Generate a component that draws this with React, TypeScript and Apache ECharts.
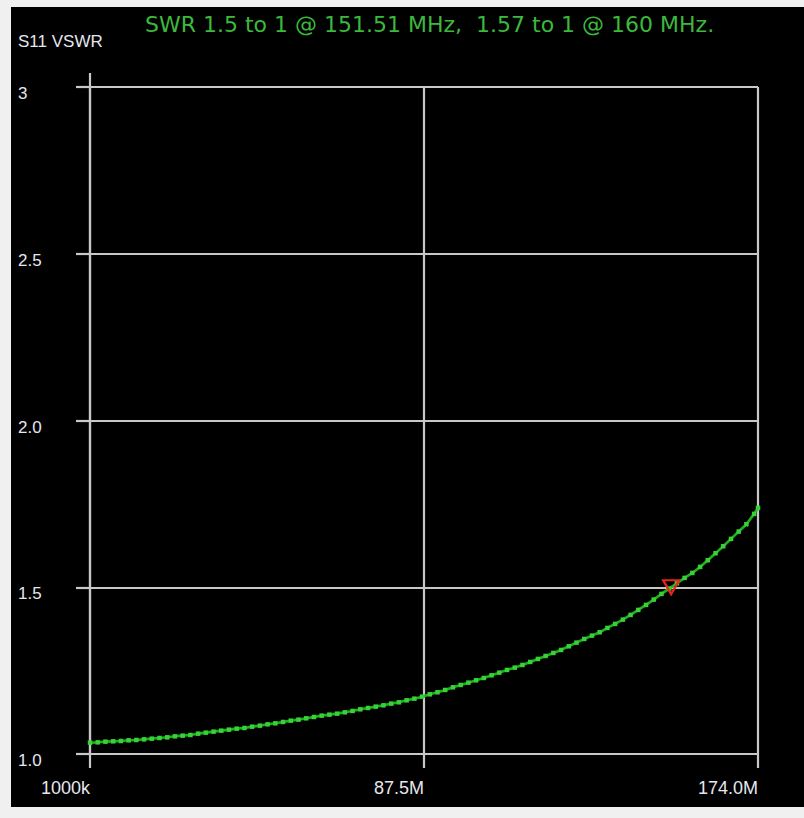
import React, { useEffect, useRef } from "react";
import * as echarts from "echarts";

const TITLE = "SWR 1.5 to 1 @ 151.51 MHz,  1.57 to 1 @ 160 MHz.";
const Y_TITLE = "S11 VSWR";

// Sweep start (MHz); the x axis is measured from it so ticks start at 0
const X0 = 1;
const X_TICK_VALUES = [1, 87.5, 174];
const X_TICK_LABELS = ["1000k", "87.5M", "174.0M"];
const Y_TICK_VALUES = [1, 1.5, 2, 2.5, 3];
const Y_TICK_LABELS = ["1.0", "1.5", "2.0", "2.5", "3"];

const FREQ_MHZ = [
  1, 3, 5, 7, 9, 11, 13, 15, 17, 19,
  21, 23, 25, 27, 29, 31, 33, 35, 37, 39,
  41, 43, 45, 47, 49, 51, 53, 55, 57, 59,
  61, 63, 65, 67, 69, 71, 73, 75, 77, 79,
  81, 83, 85, 87, 89, 91, 93, 95, 97, 99,
  101, 103, 105, 107, 109, 111, 113, 115, 117, 119,
  121, 123, 125, 127, 129, 131, 133, 135, 137, 139,
  141, 143, 145, 147, 149, 151, 153, 155, 157, 159,
  161, 163, 165, 167, 169, 171, 173, 174,
];

const VSWR = [
  1.034, 1.035, 1.037, 1.038, 1.039, 1.041, 1.042, 1.044, 1.046, 1.048,
  1.05, 1.053, 1.055, 1.057, 1.061, 1.064, 1.067, 1.07, 1.073, 1.076,
  1.078, 1.082, 1.085, 1.089, 1.092, 1.096, 1.1, 1.103, 1.107, 1.111,
  1.115, 1.118, 1.121, 1.125, 1.129, 1.134, 1.138, 1.142, 1.146, 1.151,
  1.155, 1.161, 1.166, 1.172, 1.179, 1.185, 1.192, 1.2, 1.207, 1.214,
  1.221, 1.228, 1.236, 1.244, 1.252, 1.259, 1.267, 1.276, 1.285, 1.294,
  1.303, 1.312, 1.323, 1.334, 1.345, 1.355, 1.365, 1.378, 1.39, 1.403,
  1.417, 1.432, 1.447, 1.463, 1.48, 1.496, 1.512, 1.528, 1.543, 1.561,
  1.581, 1.602, 1.623, 1.645, 1.667, 1.689, 1.72, 1.738,
];

const MARKER_FREQ = 151.51;
const MARKER_SWR = 1.5;

const GRID_COLOR = "#c8c8c8";
const LABEL_COLOR = "#e6e6ee";
const LABEL_FONT = "'Liberation Sans', Arial, sans-serif";

export default function App() {
  const ref = useRef<HTMLDivElement>(null);

  useEffect(() => {
    if (!ref.current) return;
    const chart = echarts.init(ref.current, undefined, { renderer: "svg" });
    const xMax = X_TICK_VALUES[X_TICK_VALUES.length - 1] - X0;
    const lineStyle = { color: GRID_COLOR, width: 2.2 };
    chart.setOption({
      animation: false,
      backgroundColor: "transparent",
      title: [
        {
          text: TITLE,
          left: 145,
          top: 13,
          padding: 0,
          textStyle: {
            color: "#3cb83c",
            fontSize: 22,
            fontWeight: "normal",
            fontFamily: "'DejaVu Sans', sans-serif",
          },
        },
        {
          text: Y_TITLE,
          left: 18,
          top: 33,
          padding: 0,
          textStyle: {
            color: LABEL_COLOR,
            fontSize: 17,
            fontWeight: "normal",
            fontFamily: LABEL_FONT,
          },
        },
      ],
      grid: { left: 90, right: 46, top: 87, bottom: 64, containLabel: false },
      xAxis: {
        type: "value",
        min: 0,
        max: xMax,
        interval: xMax / 2,
        axisLine: { show: true, lineStyle },
        axisTick: { show: true, length: 14, lineStyle },
        splitLine: { show: true, lineStyle },
        axisLabel: {
          color: LABEL_COLOR,
          fontFamily: LABEL_FONT,
          fontSize: 18,
          align: "right",
          margin: 25,
          showMaxLabel: true,
          showMinLabel: true,
          formatter: (v: number) => {
            const i = X_TICK_VALUES.findIndex((t) => Math.abs(t - X0 - v) < 0.01);
            return i >= 0 ? X_TICK_LABELS[i] : "";
          },
        },
      },
      yAxis: {
        type: "value",
        min: 1,
        max: 3,
        interval: 0.5,
        axisLine: { show: true, lineStyle },
        axisTick: { show: true, length: 14, lineStyle },
        splitLine: { show: true, lineStyle },
        axisLabel: {
          color: LABEL_COLOR,
          fontFamily: LABEL_FONT,
          fontSize: 17,
          align: "left",
          verticalAlign: "top",
          lineHeight: 13,
          margin: 72,
          formatter: (v: number) => {
            const i = Y_TICK_VALUES.findIndex((t) => Math.abs(t - v) < 1e-6);
            return i >= 0 ? Y_TICK_LABELS[i] : "";
          },
        },
      },
      series: [
        {
          type: "line",
          data: FREQ_MHZ.map((f, i) => [f - X0, VSWR[i]]),
          symbol: "rect",
          symbolSize: 4.5,
          showSymbol: true,
          clip: false,
          lineStyle: { color: "#1fb01f", width: 2.6 },
          itemStyle: { color: "#36d236" },
          z: 3,
          markPoint: {
            symbol: "path://M0,0L16,0L8,14Z",
            symbolSize: [16, 14],
            itemStyle: {
              color: "rgba(0,0,0,0)",
              borderColor: "#e8241c",
              borderWidth: 2.2,
            },
            label: { show: false },
            data: [{ coord: [MARKER_FREQ - X0, MARKER_SWR] }],
          },
        },
      ],
    });
    // Extend the left axis line above the top gridline, like the reference
    const top = chart.convertToPixel({ gridIndex: 0 }, [0, Y_TICK_VALUES[Y_TICK_VALUES.length - 1]]) as number[];
    chart.setOption({
      graphic: [
        {
          type: "line",
          shape: { x1: top[0], y1: top[1] - 14, x2: top[0], y2: top[1] },
          style: { stroke: GRID_COLOR, lineWidth: 2.2 },
        },
      ],
    });
    return () => chart.dispose();
  }, []);

  return (
    <div
      style={{
        position: "absolute",
        left: 0,
        top: 0,
        width: 804,
        height: 818,
        background: "#f0f0f0",
      }}
    >
      <div
        style={{
          position: "absolute",
          left: 11,
          top: 7,
          width: 793,
          height: 800,
          background: "#000",
        }}
      />
      <div
        ref={ref}
        style={{ position: "absolute", left: 0, top: 0, width: 804, height: 818 }}
      />
    </div>
  );
}
